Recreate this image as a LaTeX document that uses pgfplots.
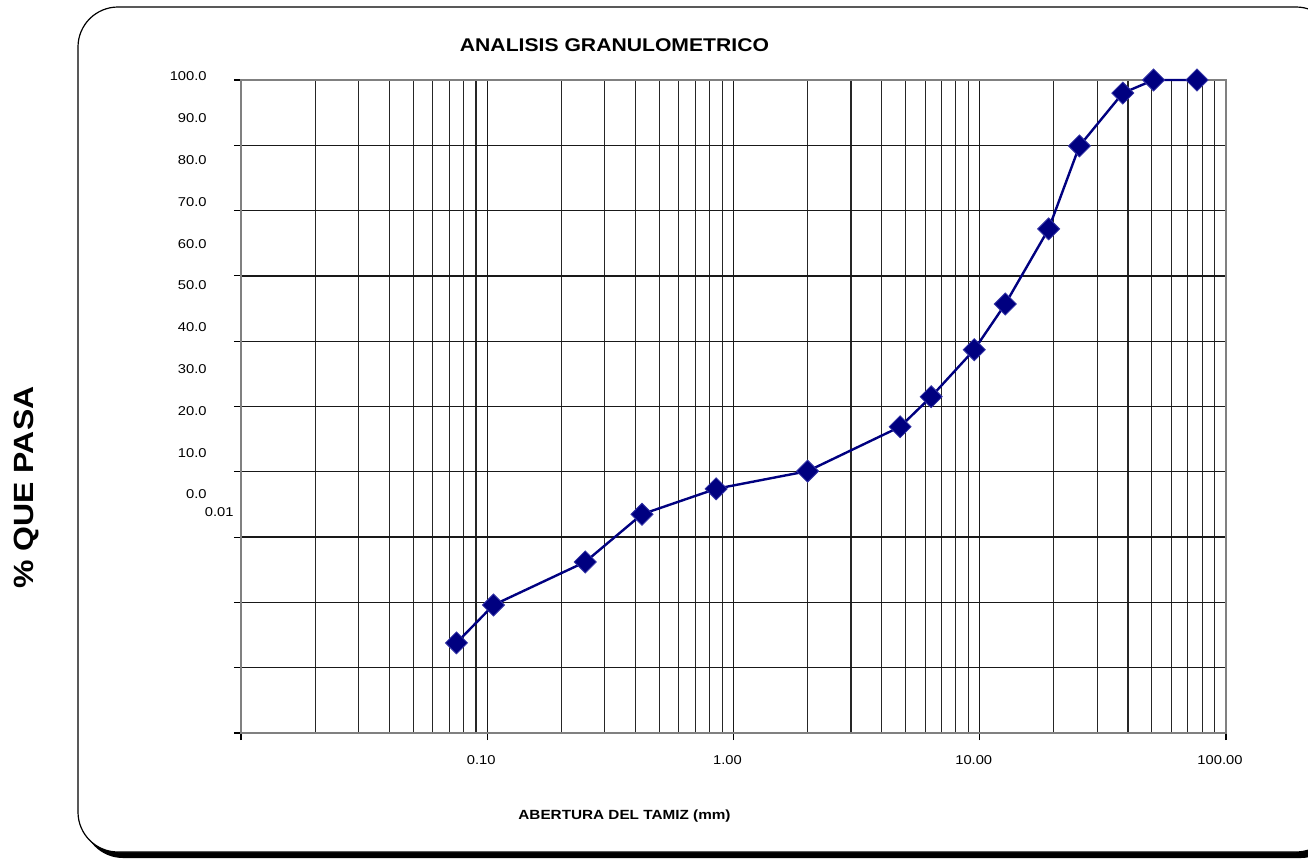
\documentclass[border=0pt]{standalone}
\usepackage{pgfplots}
\pgfplotsset{compat=1.18}
\usepackage{fontspec}
\setmainfont{Liberation Sans}
\newfontfamily\cf[FakeStretch=1.15]{Liberation Sans}
\definecolor{navy}{HTML}{000080}
\definecolor{markedge}{HTML}{3333A6}

\begin{document}
\begin{tikzpicture}[x=0.5pt,y=-0.5pt]
\path[use as bounding box] (0,0) rectangle (1308,858);
% rounded chart frame with its drop shadow
\begin{scope}
  \clip (0,0) rectangle (1308,858);
  \fill[black, rounded corners=20pt] (83,12) rectangle (1341,858);
  \draw[black, line width=0.6pt, fill=white, rounded corners=20pt] (78,7) rectangle (1336,852);
\end{scope}

\begin{axis}[
  at={(120.5pt,-366.5pt)}, anchor=south west,
  scale only axis, width=492.5pt, height=326.5pt,
  xmode=log, log basis x=10,
  xmin=0.01, xmax=100, ymin=0, ymax=100,
  xtick={0.01,0.1,1,10,100},
  xticklabels={,0.10,1.00,10.00,100.00},
  minor xtick={0.02,0.03,0.04,0.05,0.06,0.07,0.08,0.09,
               0.2,0.3,0.4,0.5,0.6,0.7,0.8,0.9,
               2,3,4,5,6,7,8,9,
               20,30,40,50,60,70,80,90},
  ytick={0,10,...,100}, yticklabels={},
  xmajorgrids, xminorgrids, ymajorgrids,
  major grid style={black!90, line width=0.65pt},
  minor grid style={black!85, line width=0.55pt},
  axis line style={draw=black!50, line width=1pt},
  tick align=outside, tickpos=left,
  major tick length=3.5pt, minor tick length=0pt,
  tick style={black, line width=0.55pt},
  xticklabel style={font=\cf\fontsize{6.4}{7}\selectfont, yshift=-4pt, xshift=-3pt},
  clip=false,
]
\addplot[color=navy, line width=1.2pt, mark=square*, mark size=3.9pt,
  mark options={rotate=45, fill=navy, draw=markedge, line width=0.4pt}]
  coordinates {
  (0.075,13.8) (0.106,19.6) (0.25,26.2) (0.425,33.5) (0.85,37.4)
  (2.0,40.1) (4.75,46.9) (6.35,51.5) (9.5,58.7) (12.7,65.7)
  (19.05,77.2) (25.4,89.9) (38.1,98.0) (50.8,100) (76.2,100)
  };
\end{axis}

% axis value labels on the left
\foreach \v [count=\i from 0] in {100.0,90.0,80.0,70.0,60.0,50.0,40.0,30.0,20.0,10.0,0.0}
  \node[anchor=east, inner sep=0pt, font=\cf\fontsize{6.4}{7}\selectfont] at (207,{76.5+41.8*\i}) {\v};
\node[anchor=east, inner sep=0pt, font=\cf\fontsize{6.4}{7}\selectfont] at (234,512.5) {0.01};

% titles
\node[anchor=base, inner sep=0pt, font=\cf\bfseries\fontsize{9.2}{11}\selectfont] at (614.5,51.7) {ANALISIS GRANULOMETRICO};
\node[anchor=base, inner sep=0pt, font=\cf\bfseries\fontsize{6.65}{8}\selectfont] at (624.5,819) {ABERTURA DEL TAMIZ (mm)};
\node[rotate=90, anchor=base, inner sep=0pt, font=\cf\bfseries\fontsize{13.9}{16}\selectfont] at (33,487.5) {\% QUE PASA};
\end{tikzpicture}
\end{document}
